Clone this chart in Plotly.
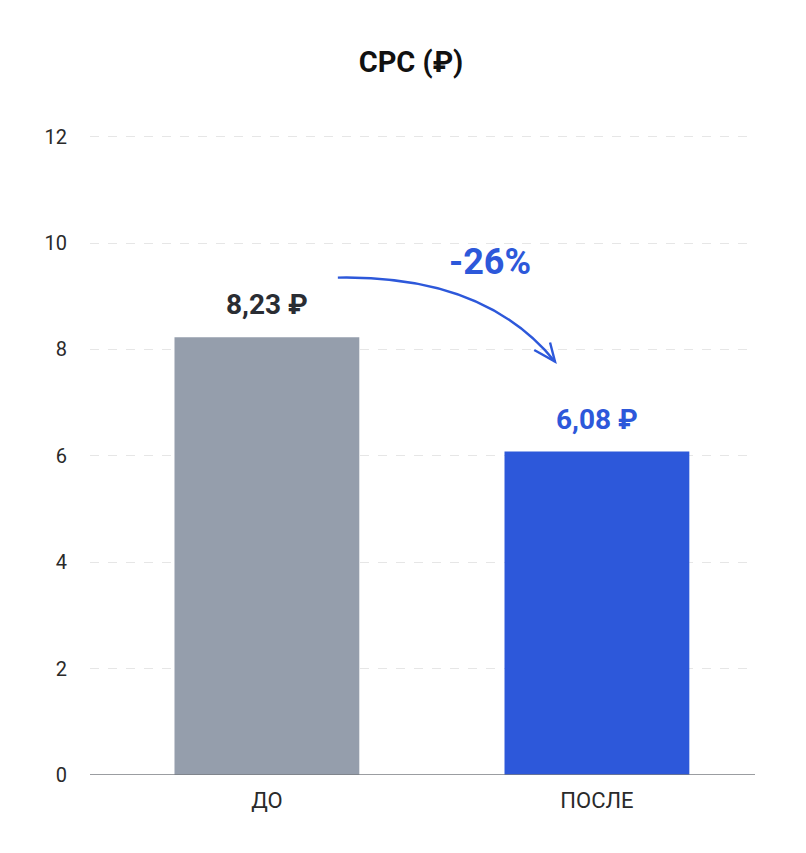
import plotly.graph_objects as go

# data
categories = ["ДО", "ПОСЛЕ"]
values = [8.23, 6.08]
value_labels = ["8,23 ₽", "6,08 ₽"]
change_label = "-26%"
y_ticks = [0, 2, 4, 6, 8, 10, 12]

GRAY = "#959eac"
BLUE = "#2d58da"
DARK = "#2a2d33"

fig = go.Figure(go.Bar(
    x=categories, y=values,
    marker=dict(color=[GRAY, BLUE], line=dict(width=0)),
    width=0.56,
    hoverinfo="skip",
))

# value labels above bars
for cat, v, lab, col in zip(categories, values, value_labels, [DARK, BLUE]):
    fig.add_annotation(x=cat, y=v, text=f"<b>{lab}</b>", showarrow=False,
                       yanchor="bottom", yshift=14,
                       font=dict(size=28, color=col, family="Roboto"))

# curved arrow between the bars
fig.add_shape(type="path", xref="x", yref="y",
              path="M 0.215 9.35 Q 0.66 9.40 0.873 7.77",
              line=dict(color=BLUE, width=2.4))
fig.add_shape(type="path", xref="x", yref="y",
              path="M 0.858 8.13 L 0.873 7.77 L 0.81 7.99",
              line=dict(color=BLUE, width=2.4))
fig.add_annotation(x=0.676, y=9.65, text=f"<b>{change_label}</b>",
                   showarrow=False, font=dict(size=36, color=BLUE, family="Roboto"))

fig.update_layout(
    title=dict(text="<b>CPC (₽)</b>", x=0.5, xanchor="center", y=0.937,
               yanchor="middle", font=dict(size=29, color="#111111", family="Roboto")),
    width=806, height=853,
    margin=dict(l=82, r=59, t=102, b=86),
    paper_bgcolor="white", plot_bgcolor="white",
    font=dict(family="Roboto", color="#333333"),
    showlegend=False,
    xaxis=dict(range=[-0.536, 1.479], showgrid=False, showline=False,
               ticks="", tickfont=dict(size=22, color="#2a2a2a"),
               ticklabelstandoff=10, zeroline=False),
    yaxis=dict(range=[0, 12.5], tickvals=y_ticks, showline=False,
               gridcolor="#e6e6e6", griddash="dash", gridwidth=1,
               zeroline=False, tickfont=dict(size=20, color="#2a2a2a"),
               ticklabelstandoff=22),
)

# baseline
fig.add_shape(type="line", xref="paper", yref="y", x0=0, x1=1, y0=0, y1=0,
              line=dict(color="#7a7d82", width=1.6))

fig.write_html("out.html")
